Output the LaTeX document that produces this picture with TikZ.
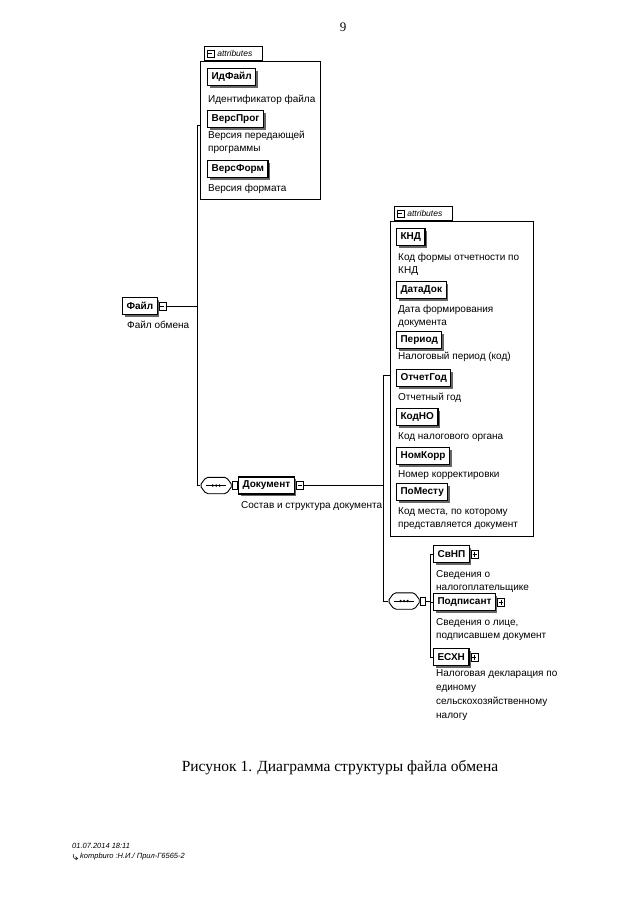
\documentclass[tikz,border=0pt]{standalone}
\usepackage{fontspec}
\setmainfont{Liberation Serif}
\newfontfamily\arialf{Liberation Sans}
\usetikzlibrary{shadows,positioning}
\tikzset{
  elem/.style={draw, line width=1.1pt, fill=white,
    font=\arialf\bfseries\fontsize{10}{12}\selectfont,
    minimum height=17pt, inner xsep=4pt, inner ysep=0pt, anchor=north west,
    drop shadow={shadow xshift=2pt, shadow yshift=-2pt, fill=black!60, opacity=1}},
  desc/.style={font=\arialf\fontsize{10}{13.3}\selectfont, align=left,
    anchor=north west, inner sep=0pt},
  attrbox/.style={draw, line width=0.7pt, anchor=north west, inner sep=0pt},
  tabbox/.style={draw, line width=0.7pt, fill=white, anchor=south west,
    inner ysep=0pt, minimum height=14pt, text height=6.5pt, text depth=1.5pt,
    align=left, font=\arialf\itshape\fontsize{8.5}{9}\selectfont},
  iconbox/.style={draw, fill=white, line width=0.6pt, minimum width=7pt,
    minimum height=8pt, inner sep=0pt, anchor=west},
  iconminus/.style={iconbox, path picture={
    \draw[line width=0.5pt] ([xshift=1.5pt]path picture bounding box.west) --
      ([xshift=-1.5pt]path picture bounding box.east);}},
  iconplus/.style={iconbox, path picture={
    \draw[line width=0.5pt] ([xshift=1.5pt]path picture bounding box.west) --
      ([xshift=-1.5pt]path picture bounding box.east);
    \draw[line width=0.5pt] ([yshift=-1.5pt]path picture bounding box.north) --
      ([yshift=1.5pt]path picture bounding box.south);}},
  comp/.style={rectangle, minimum width=32pt, minimum height=16pt,
    inner sep=0pt, anchor=west},
  conbox/.style={draw, fill=white, line width=0.6pt, minimum width=5pt,
    minimum height=8pt, inner sep=0pt, anchor=west},
  wire/.style={line width=0.7pt},
}
\newcommand\seqshape[1]{%
  \fill[black!70, rounded corners=2pt, shift={(2pt,-2.5pt)}]
    (#1.west) -- ([xshift=6pt]#1.north west) -- ([xshift=-6pt]#1.north east) --
    (#1.east) -- ([xshift=-6pt]#1.south east) -- ([xshift=6pt]#1.south west) -- cycle;
  \filldraw[fill=white, line width=0.9pt, rounded corners=2pt]
    (#1.west) -- ([xshift=6pt]#1.north west) -- ([xshift=-6pt]#1.north east) --
    (#1.east) -- ([xshift=-6pt]#1.south east) -- ([xshift=6pt]#1.south west) -- cycle;
  \draw[line width=0.8pt] ([xshift=6pt]#1.west) -- ([xshift=-6pt]#1.east);
  \foreach \dx in {-3.5pt,0pt,3.5pt}
    \fill ([xshift=\dx]#1.center) circle (1.3pt);
}
\begin{document}
\begin{tikzpicture}[x=1pt,y=-1pt]
\path[fill=white] (0,0) rectangle (640,905);
\useasboundingbox (0,0) rectangle (640,905);

% page number
\node[font=\fontsize{13}{15}\selectfont] (pagenum) at (343,27) {9};

% ---------- attributes of Файл ----------
\node[attrbox, minimum width=120pt, minimum height=138pt] (a1) at (200,61) {};
\node[tabbox, inner xsep=0pt, text width=56pt, minimum width=58pt] (t1) at (204,61) {\hspace*{12pt}attributes};
\node[iconminus, minimum width=7pt, minimum height=7pt] (t1ic) at ([xshift=2.5pt]t1.west) {};

\node[elem] (idf) at (207,68) {ИдФайл};
\node[desc] (idfd) at (208,95) {Идентификатор файла};
\node[elem] (vp) at (207,110) {ВерсПрог};
\node[desc] (vpd) at (208,131) {Версия передающей\\программы};
\node[elem] (vf) at (207,160) {ВерсФорм};
\node[desc] (vfd) at (208,184) {Версия формата};

% ---------- Файл ----------
\node[elem] (file) at (122,297) {Файл};
\node[iconminus] (fileic) at ([xshift=1pt]file.east) {};
\node[desc] (filed) at (127,321) {Файл обмена};

\coordinate (v1t) at (197,125);
\coordinate (v1b) at (197,485.5);

% ---------- sequence 1 / Документ ----------
\node[comp] (comp1) at (200,485.5) {};
\seqshape{comp1}
\node[conbox] (cc1) at (comp1.east) {};
\node[elem, anchor=west] (doc) at (cc1.east) {Документ};
\node[iconminus] (docic) at ([xshift=1pt]doc.east) {};
\node[desc] (docd) at (241,501) {Состав и структура документа};

\draw[wire] (fileic.east) -- (fileic.east -| v1t);
\draw[wire] (a1.west |- v1t) -- (v1t) -- (v1b) -- (comp1.west);

% ---------- attributes of Документ ----------
\node[attrbox, minimum width=143pt, minimum height=315pt] (a2) at (390,221) {};
\node[tabbox, inner xsep=0pt, text width=56pt, minimum width=58pt] (t2) at (394,221) {\hspace*{12pt}attributes};
\node[iconminus, minimum width=7pt, minimum height=7pt] (t2ic) at ([xshift=2.5pt]t2.west) {};

\node[elem] (knd) at (396,228) {КНД};
\node[desc] (kndd) at (398,253) {Код формы отчетности по\\КНД};
\node[elem] (dd) at (396,281) {ДатаДок};
\node[desc] (ddd) at (398,305) {Дата формирования\\документа};
\node[elem] (per) at (396,331) {Период};
\node[desc] (perd) at (398,352) {Налоговый период (код)};
\node[elem] (og) at (396,369) {ОтчетГод};
\node[desc] (ogd) at (398,393) {Отчетный год};
\node[elem] (kno) at (396,408) {КодНО};
\node[desc] (knod) at (398,432) {Код налогового органа};
\node[elem] (nk) at (396,447) {НомКорр};
\node[desc] (nkd) at (398,470) {Номер корректировки};
\node[elem] (pm) at (396,483) {ПоМесту};
\node[desc] (pmd) at (398,507) {Код места, по которому\\представляется документ};

\coordinate (v2t) at (383,375);
\coordinate (v2b) at (383,601);

% ---------- sequence 2 ----------
\node[comp] (comp2) at (388,601) {};
\seqshape{comp2}
\node[conbox] (cc2) at (comp2.east) {};
\coordinate (b2) at (430,601);

\node[elem] (svnp) at (433,545) {СвНП};
\node[iconplus] (svnpic) at ([xshift=1pt]svnp.east) {};
\node[desc] (svnpd) at (436,570) {Сведения о\\налогоплательщике};
\node[elem] (pods) at (433,593) {Подписант};
\node[iconplus] (podsic) at ([xshift=1pt]pods.east) {};
\node[desc] (podsd) at (436,618) {Сведения о лице,\\подписавшем документ};
\node[elem] (esxn) at (433,648) {ЕСХН};
\node[iconplus] (esxnic) at ([xshift=1pt]esxn.east) {};
\node[desc, font=\arialf\fontsize{10}{14}\selectfont] (esxnd) at (436,669) {Налоговая декларация по\\единому\\сельскохозяйственному\\налогу};

\draw[wire] (docic.east) -- (docic.east -| v2t);
\draw[wire] (a2.west |- v2t) -- (v2t) -- (v2b) -- (comp2.west);
\draw[wire] (cc2.east) -- (b2);
\draw[wire] (svnp.west -| b2) -- (esxn.west -| b2);
\draw[wire] (svnp.west -| b2) -- (svnp.west);
\draw[wire] (pods.west -| b2) -- (pods.west);
\draw[wire] (esxn.west -| b2) -- (esxn.west);

% ---------- caption ----------
\node[font=\fontsize{15.5}{18}\selectfont] (caption) at (340,768) {Рисунок 1. Диаграмма структуры файла обмена};

% ---------- footer ----------
\node[anchor=west, inner sep=0pt, font=\arialf\itshape\fontsize{7.5}{9}\selectfont] (foot1) at (72,846) {01.07.2014 18:11};
\node[anchor=west, inner sep=0pt, font=\arialf\itshape\fontsize{7.5}{9}\selectfont] (foot2) at (80,857) {kompburo :Н.И./ Прил-Г6565-2};
\draw[line width=0.5pt] (73.5,854) .. controls (72.5,857) and (74,859.5) .. (77.5,858.5);
\draw[line width=0.5pt] (75.5,856.5) -- (77.5,858.5) -- (75.5,860);
\end{tikzpicture}
\end{document}
